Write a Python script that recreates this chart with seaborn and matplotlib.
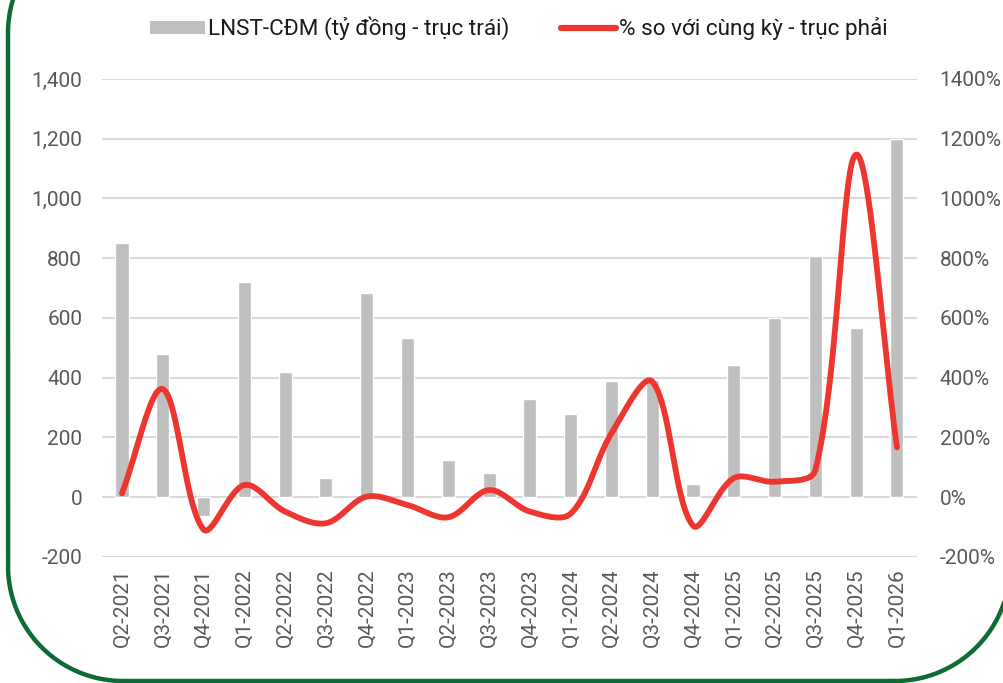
import numpy as np
import pandas as pd
import matplotlib
matplotlib.use("Agg")
import matplotlib.pyplot as plt
import seaborn as sns
from matplotlib.patches import Patch
from matplotlib.lines import Line2D

quarters = ["Q2-2021", "Q3-2021", "Q4-2021", "Q1-2022", "Q2-2022", "Q3-2022", "Q4-2022",
            "Q1-2023", "Q2-2023", "Q3-2023", "Q4-2023", "Q1-2024", "Q2-2024", "Q3-2024",
            "Q4-2024", "Q1-2025", "Q2-2025", "Q3-2025", "Q4-2025", "Q1-2026"]
profit = [850, 480, -62, 720, 420, 66, 682, 533, 125, 81, 330, 277, 390, 394, 44,
          443, 600, 807, 568, 1200]
yoy_pct = [13, 362, -108, 41, -48, -87, 2, -26, -67, 24, -48, -55, 214, 387, -95,
           64, 52, 91, 1147, 167]

left_ticks = [-200, 0, 200, 400, 600, 800, 1000, 1200, 1400]
right_ticks = [-200, 0, 200, 400, 600, 800, 1000, 1200, 1400]
legend_bar = "LNST-CĐM (tỷ đồng - trục trái)"
legend_line = "% so với cùng kỳ - trục phải"

sns.set_theme(style="white")
plt.rcParams['font.family'] = ['Roboto', 'DejaVu Sans']

GRAY = "#bfbfbf"
RED = "#ee3631"
TXT = "#595959"

# pixel scale of the plot area (for an Excel-like smoothing done in screen space)
PX_X = 40.8      # pixels per category
PX_Y = 0.2985    # pixels per percent


def smooth(xs, ys, n=40):
    # Excel-like smoothed line: cubic Bezier segments whose handles follow the
    # neighbour chord, split in proportion to the adjacent segment lengths
    P = np.column_stack([np.asarray(xs, float) * PX_X, np.asarray(ys, float) * PX_Y])
    m = len(P)
    seglen = np.linalg.norm(np.diff(P, axis=0), axis=1)
    t = np.linspace(0, 1, n)
    out = []
    for i in range(m - 1):
        p1, p2 = P[i], P[i + 1]
        L = seglen[i]
        if i == 0:
            h1 = (p2 - p1) / 3.0
        else:
            chord = P[i + 1] - P[i - 1]
            h1 = chord / 3.0 * L / (seglen[i - 1] + L)
        if i + 1 == m - 1:
            h2 = (p2 - p1) / 3.0
        else:
            chord = P[i + 2] - P[i]
            h2 = chord / 3.0 * L / (L + seglen[i + 1])
        b0, b1, b2, b3 = p1, p1 + h1, p2 - h2, p2
        seg = ((1 - t) ** 3)[:, None] * b0 + (3 * (1 - t) ** 2 * t)[:, None] * b1 \
            + (3 * (1 - t) * t ** 2)[:, None] * b2 + (t ** 3)[:, None] * b3
        out.append(seg if i == 0 else seg[1:])
    out = np.vstack(out)
    return out[:, 0] / PX_X, out[:, 1] / PX_Y


def rounded_rect(x0, y0, x1, y1, r, n=40):
    # outline of a rounded rectangle (inches), counter-clockwise
    pts = []
    corners = [((x1 - r, y0 + r), -np.pi / 2, 0.0),
               ((x1 - r, y1 - r), 0.0, np.pi / 2),
               ((x0 + r, y1 - r), np.pi / 2, np.pi),
               ((x0 + r, y0 + r), np.pi, 1.5 * np.pi)]
    for (cx, cy), a0, a1 in corners:
        a = np.linspace(a0, a1, n)
        pts.append(np.column_stack([cx + r * np.cos(a), cy + r * np.sin(a)]))
    pts = np.vstack(pts)
    pts = np.vstack([pts, pts[:1]])
    return pts[:, 0], pts[:, 1]


fig = plt.figure(figsize=(10.04, 6.83), dpi=100)
ax = fig.add_axes([0.1012, 0.1845, 0.8125, 0.6999])

df = pd.DataFrame({"q": quarters, "profit": profit})
sns.barplot(data=df, x="q", y="profit", color=GRAY, saturation=1, width=0.32, ax=ax)

ax.set_xlim(-0.5, len(quarters) - 0.5)
ax.set_ylim(-200, 1400)
ax.set_yticks(left_ticks)
ax.set_yticklabels([f"{v:,}" for v in left_ticks])
ax.set_xlabel("")
ax.set_ylabel("")
ax.grid(axis="y", color="#d9d9d9", linewidth=1.5)
ax.set_axisbelow(True)
for s in ax.spines.values():
    s.set_visible(False)
ax.tick_params(axis="y", length=0, pad=14, labelsize=15, labelcolor=TXT)
ax.tick_params(axis="x", length=0, pad=8, labelsize=15, labelcolor=TXT, rotation=90)

ax2 = ax.twinx()
sx, sy = smooth(np.arange(len(quarters)), yoy_pct)
sdf = pd.DataFrame({"x": sx, "y": sy})
sns.lineplot(data=sdf, x="x", y="y", sort=False, color=RED, linewidth=4.2,
             ax=ax2, solid_capstyle="round")
ax2.set_ylim(-200, 1400)
ax2.set_yticks(right_ticks)
ax2.set_yticklabels([f"{v}%" for v in right_ticks])
ax2.set_xlabel("")
ax2.set_ylabel("")
for s in ax2.spines.values():
    s.set_visible(False)
ax2.tick_params(axis="y", length=0, pad=16, labelsize=15, labelcolor=TXT)
ax2.grid(False)
ax2.set_xlim(-0.5, len(quarters) - 0.5)

handles = [Patch(facecolor=GRAY, edgecolor="none"),
           Line2D([0], [0], color=RED, linewidth=4.5, solid_capstyle="round")]
fig.legend(handles, [legend_bar, legend_line], loc="center", bbox_to_anchor=(0.517, 0.958),
           ncol=2, frameon=False, fontsize=16.2, handlelength=2.45, handleheight=0.5,
           handletextpad=0.12, columnspacing=2.3, labelcolor="#1a1a1a")

bx, by = rounded_rect(0.08, 0.02, 10.10, 7.65, 1.15)
fig.add_artist(Line2D(bx, by, transform=fig.dpi_scale_trans, color="#0d6b33",
                      linewidth=3.2, solid_joinstyle="round"))

fig.savefig("out.png", dpi=100)
